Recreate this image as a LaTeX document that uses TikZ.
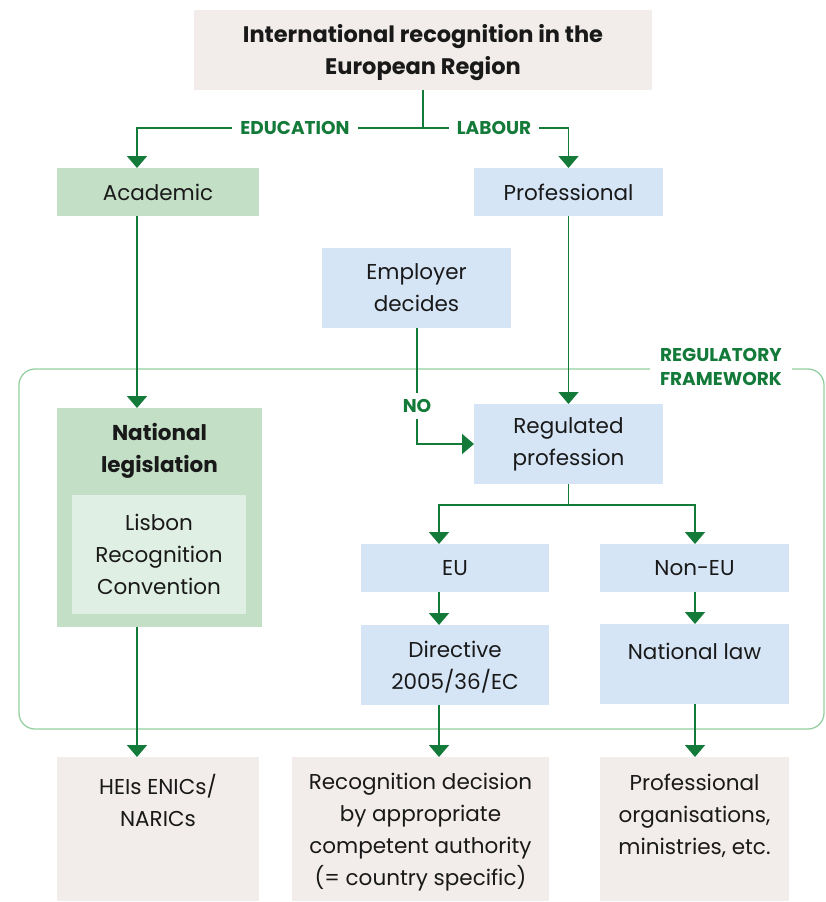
\documentclass[tikz,border=0pt]{standalone}
\usepackage{fontspec}
\setmainfont{Poppins}
\usetikzlibrary{arrows.meta}
\definecolor{beige}{HTML}{F2EDEA}
\definecolor{mint}{HTML}{C3DFC6}
\definecolor{palemint}{HTML}{E0EFE3}
\definecolor{skyblue}{HTML}{D5E5F6}
\definecolor{flowgreen}{HTML}{137A39}
\definecolor{framegreen}{HTML}{95CFA2}
\begin{document}
\begin{tikzpicture}[x=1pt,y=-1pt,
  box/.style={inner sep=0pt, outer sep=0pt, align=center,
    font=\fontsize{21.5}{32}\selectfont, text=black!90},
  txt/.style={inner sep=0pt, align=center, font=\fontsize{21.5}{32}\selectfont, text=black!90},
  tag/.style={inner sep=4pt, fill=white, text=flowgreen, align=center,
    font=\fontsize{18.5}{24}\selectfont\bfseries},
  flow/.style={draw=flowgreen, line width=1.8pt,
    -{Triangle[width=20pt,length=12pt]}},
  plain/.style={draw=flowgreen, line width=1.8pt},
  frame/.style={draw=framegreen, line width=1.3pt, rounded corners=16pt}]

\path[use as bounding box] (0,0) rectangle (825,902);

% regulatory framework outline
\draw[frame] (19,369) rectangle (824,729);
\node[tag, anchor=north east, inner xsep=10pt, inner ysep=2pt] (regtag) at (792,346) {REGULATORY\\FRAMEWORK};

% top level
\node[box, fill=beige, minimum width=458, minimum height=80] (top) at (423,50) {};
\node[txt, font=\fontsize{22.5}{32}\selectfont\bfseries] (toptext) at (423,53)
  {International recognition in the\\European Region};
\node[box, fill=mint, minimum width=202, minimum height=48] (academic) at (158,192) {Academic};
\node[box, fill=skyblue, minimum width=189, minimum height=48] (professional) at (568.5,192) {Professional};
\node[box, fill=skyblue, minimum width=189, minimum height=80] (employer) at (416.5,288) {Employer\\decides};

% academic column
\node[box, fill=mint, minimum width=205, minimum height=219] (natleg) at (159.5,517.5) {};
\node[txt, font=\fontsize{21.5}{32}\selectfont\bfseries] (natlegtitle) at (159.5,451) {National\\legislation};
\node[box, fill=palemint, minimum width=174, minimum height=119] (lisbon) at (159,554.5) {Lisbon\\Recognition\\Convention};

% professional column
\node[box, fill=skyblue, minimum width=189, minimum height=80] (regulated) at (568.5,444) {Regulated\\profession};
\node[box, fill=skyblue, minimum width=188, minimum height=48] (eu) at (455,568) {EU};
\node[box, fill=skyblue, minimum width=189, minimum height=48] (noneu) at (694.5,568) {Non-EU};
\node[box, fill=skyblue, minimum width=188, minimum height=80] (directive) at (455,665) {};
\node[txt] (directivetext) at (455,667) {Directive\\2005/36/EC};
\node[box, fill=skyblue, minimum width=189, minimum height=80] (natlaw) at (694.5,664) {};
\node[txt] (natlawtext) at (694.5,651) {National law};

% outcomes
\node[box, fill=beige, minimum width=202, minimum height=144] (heis) at (158,829) {};
\node[txt] (heistext) at (158,800) {HEIs ENICs/\\NARICs};
\node[box, fill=beige, minimum width=257, minimum height=144] (recog) at (420.5,829) {};
\node[txt] (recogtext) at (420.5,832) {Recognition decision\\by appropriate\\competent authority\\(= country specific)};
\node[box, fill=beige, minimum width=189, minimum height=144] (profs) at (694.5,829) {};
\node[txt] (profstext) at (694.5,816) {Professional\\organisations,\\ministries, etc.};

% connectors from the top box
\coordinate (split) at (423,128);
\draw[plain] (top.south) -- (split);
\draw[flow] (split) -| (academic.north -| 137,0);
\draw[flow] (split) -| (professional.north);
\node[tag, inner xsep=8pt] (edu) at (295,128) {EDUCATION};
\node[tag, inner xsep=8pt] (labour) at (494,128) {LABOUR};

% academic path
\draw[flow] (academic.south -| 137,0) -- (natleg.north -| 137,0);
\draw[flow] (natleg.south -| 137,0) -- (heis.north -| 137,0);

% professional path
\draw[flow] (professional.south) -- (regulated.north);
\coordinate (nobend) at (417,444);
\draw[flow] (employer.south -| nobend) -- (nobend) -- (regulated.west);
\node[tag, inner ysep=6pt] (no) at (417,406) {NO};

\coordinate (fork) at (568.5,505);
\draw[plain] (regulated.south) -- (fork);
\draw[flow] (fork) -| (eu.north -| 439,0);
\draw[flow] (fork) -| (noneu.north -| 695,0);
\draw[flow] (eu.south -| 439,0) -- (directive.north -| 439,0);
\draw[flow] (noneu.south -| 695,0) -- (natlaw.north -| 695,0);
\draw[flow] (directive.south -| 439,0) -- (recog.north -| 439,0);
\draw[flow] (natlaw.south -| 695,0) -- (profs.north -| 695,0);
\end{tikzpicture}
\end{document}
